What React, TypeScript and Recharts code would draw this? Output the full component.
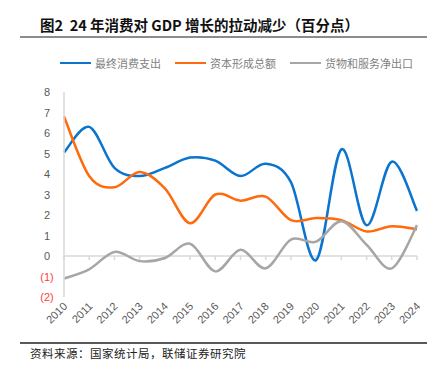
import { LineChart, Line, XAxis, YAxis, ReferenceLine } from 'recharts';

const years = ['2010', '2011', '2012', '2013', '2014', '2015', '2016', '2017', '2018', '2019', '2020', '2021', '2022', '2023', '2024'];
const consumption = [5.05, 6.3, 4.3, 3.9, 4.3, 4.8, 4.65, 3.9, 4.5, 3.6, -0.2, 5.2, 1.5, 4.6, 2.2];
const capital = [6.8, 3.9, 3.35, 4.1, 3.3, 1.6, 3.0, 2.7, 2.9, 1.75, 1.85, 1.75, 1.2, 1.45, 1.3];
const netExports = [-1.1, -0.65, 0.2, -0.25, -0.1, 0.6, -0.75, 0.3, -0.6, 0.8, 0.7, 1.7, 0.55, -0.6, 1.5];
const yTicks = [-2, -1, 0, 1, 2, 3, 4, 5, 6, 7, 8];

const series = [
  { key: 'consumption', name: '最终消费支出', color: '#0B74CF' },
  { key: 'capital', name: '资本形成总额', color: '#FF6A0D' },
  { key: 'netExports', name: '货物和服务净出口', color: '#A6A6A6' },
];

const data = years.map((year, i) => ({
  year,
  consumption: consumption[i],
  capital: capital[i],
  netExports: netExports[i],
}));

// Excel-style smoothing (uniform Catmull-Rom as bezier)
function smoothCurve(context: any) {
  let pts: [number, number][] = [];
  return {
    areaStart() {},
    areaEnd() {},
    lineStart() {
      pts = [];
    },
    point(x: number, y: number) {
      pts.push([+x, +y]);
    },
    lineEnd() {
      if (!pts.length) return;
      context.moveTo(pts[0][0], pts[0][1]);
      for (let i = 0; i < pts.length - 1; i++) {
        const p0 = pts[i - 1] || pts[i];
        const p1 = pts[i];
        const p2 = pts[i + 1];
        const p3 = pts[i + 2] || p2;
        context.bezierCurveTo(
          p1[0] + (p2[0] - p0[0]) / 6,
          p1[1] + (p2[1] - p0[1]) / 6,
          p2[0] - (p3[0] - p1[0]) / 6,
          p2[1] - (p3[1] - p1[1]) / 6,
          p2[0],
          p2[1]
        );
      }
    },
  };
}

const font = 'Arial, "Liberation Sans", "Noto Sans CJK SC", sans-serif';

function YTick({ x, y, payload }: any) {
  const v = payload.value as number;
  const neg = v < 0;
  return (
    <text
      x={x - 9}
      y={y}
      dy={4}
      textAnchor="middle"
      fontSize={11}
      fontFamily={font}
      fill={neg ? '#FF3B3B' : '#595959'}
    >
      {neg ? `(${Math.abs(v)})` : v}
    </text>
  );
}

function XTick({ x, y, payload }: any) {
  const tx = x + 4;
  const ty = y + 2;
  return (
    <text
      x={tx}
      y={ty}
      textAnchor="end"
      fontSize={11}
      fontFamily={font}
      fill="#595959"
      transform={`rotate(-45, ${tx}, ${ty})`}
    >
      {payload.value}
    </text>
  );
}

export default function App() {
  return (
    <div
      style={{
        position: 'absolute',
        left: 0,
        top: 0,
        width: 439,
        height: 370,
        background: '#fff',
        fontFamily: '"Noto Sans CJK SC", sans-serif',
      }}
    >
      <div
        style={{
          position: 'absolute',
          left: 40,
          top: 15,
          fontSize: 14.5,
          fontWeight: 700,
          color: '#111',
          whiteSpace: 'pre',
          lineHeight: '20px',
        }}
      >
        图2  24 年消费对 GDP 增长的拉动减少（百分点）
      </div>
      <div style={{ position: 'absolute', left: 20, top: 36, width: 407, height: 1.5, background: '#8C8C8C' }} />

      <div
        style={{
          position: 'absolute',
          left: 60,
          top: 54,
          display: 'flex',
          alignItems: 'center',
          gap: 14,
          fontSize: 11,
          color: '#7F7F7F',
          lineHeight: '18px',
        }}
      >
        {series.map((s) => (
          <div key={s.key} style={{ display: 'flex', alignItems: 'center' }}>
            <div style={{ width: 31, height: 2.5, background: s.color, marginRight: 4 }} />
            <span>{s.name}</span>
          </div>
        ))}
      </div>

      <div style={{ position: 'absolute', left: 0, top: 0 }}>
        <LineChart width={439} height={370} data={data} margin={{ top: 92, right: 22, bottom: 23, left: 34 }}>
          <XAxis
            dataKey="year"
            axisLine={false}
            tickLine={false}
            height={50}
            interval={0}
            tick={<XTick />}
          />
          <YAxis
            domain={[-2, 8]}
            ticks={yTicks}
            width={30}
            axisLine={{ stroke: '#D9D9D9', strokeWidth: 1.5 }}
            tickLine={false}
            interval={0}
            tick={<YTick />}
          />
          <ReferenceLine y={0} stroke="#D9D9D9" strokeWidth={1.5} />
          {years.map((yr) => (
            <ReferenceLine
              key={yr}
              segment={[
                { x: yr, y: 0 },
                { x: yr, y: -0.2 },
              ]}
              stroke="#D9D9D9"
              strokeWidth={1.5}
            />
          ))}
          {series.map((s) => (
            <Line
              key={s.key}
              dataKey={s.key}
              name={s.name}
              type={smoothCurve as any}
              stroke={s.color}
              strokeWidth={2.5}
              dot={false}
              activeDot={false}
              isAnimationActive={false}
            />
          ))}
        </LineChart>
      </div>

      <div style={{ position: 'absolute', left: 20, top: 342, width: 407, height: 1.5, background: '#595959' }} />
      <div
        style={{
          position: 'absolute',
          left: 30,
          top: 345,
          fontSize: 11.5,
          color: '#222',
          lineHeight: '16px',
          letterSpacing: 0.5,
        }}
      >
        资料来源：国家统计局，联储证券研究院
      </div>
    </div>
  );
}
